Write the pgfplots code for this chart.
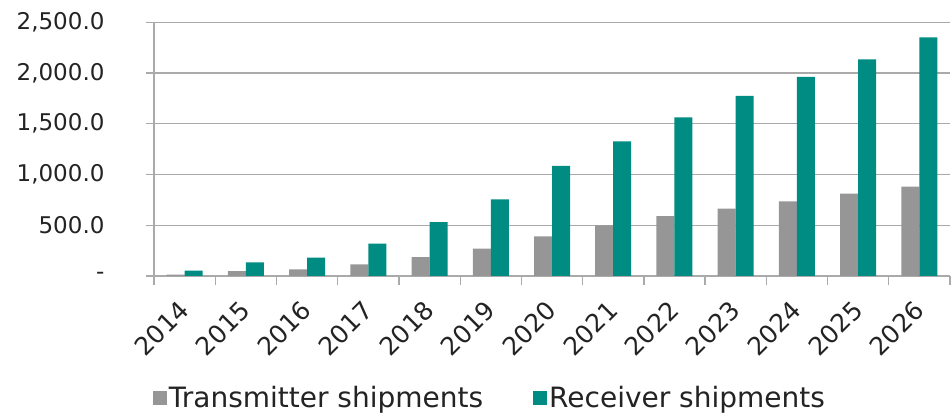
\documentclass[border=0pt]{standalone}
\usepackage{pgfplots}
\pgfplotsset{compat=1.18}
\usepackage{fontspec}
\setmainfont{DejaVu Sans}
\definecolor{teal1}{RGB}{0,140,130}
\definecolor{gray1}{RGB}{150,150,150}
\definecolor{gridc}{RGB}{170,170,170}
\definecolor{txt}{RGB}{35,35,35}
\begin{document}
\begin{tikzpicture}
\path[use as bounding box] (0,0) rectangle (952pt,414pt);
\begin{axis}[
  at={(154pt,138pt)}, anchor=south west,
  scale only axis, width=796pt, height=253.7pt,
  xmin=-0.5, xmax=12.5, ymin=0, ymax=2500,
  axis x line*=bottom, axis y line*=left,
  axis line style={gridc, line width=1.3pt},
  ybar=0pt, bar width=18pt,
  xtick={0,...,12},
  xticklabels={2014,2015,2016,2017,2018,2019,2020,2021,2022,2023,2024,2025,2026},
  minor xtick={-0.5,0.5,...,12.5},
  tick align=outside,
  major tick length=8pt, minor tick length=9pt,
  every major x tick/.append style={draw=none},
  every tick/.append style={gridc, line width=1.3pt},
  ytick={0,500,...,2500},
  yticklabels={{-\hspace{18pt}},{500.0},{1,000.0},{1,500.0},{2,000.0},{2,500.0}},
  ymajorgrids, major grid style={gridc, line width=1.3pt},
  xticklabel style={font=\fontsize{25}{30}\selectfont, text=txt, rotate=45, anchor=north east, inner sep=0pt, xshift=-15.5pt, yshift=-5.6pt},
  yticklabel style={font=\fontsize{23}{27}\selectfont, text=txt, xshift=-38pt},
  legend style={at={(axis description cs:0.422,-0.481)}, anchor=center, draw=none,
    font=\fontsize{28}{32}\selectfont, text=txt, legend columns=2,
    /tikz/every even column/.append style={column sep=48pt}},
  legend image code/.code={\fill[#1, draw=none] (0pt,-7pt) rectangle (14pt,7pt);},
]
\addplot[fill=gray1, draw=none] coordinates {(0,13) (1,49) (2,66) (3,115) (4,187) (5,269) (6,391) (7,499) (8,591) (9,664) (10,736) (11,811) (12,880)};
\addplot[fill=teal1, draw=none] coordinates {(0,52) (1,135) (2,180) (3,318) (4,531) (5,756) (6,1084) (7,1327) (8,1564) (9,1774) (10,1961) (11,2135) (12,2352)};
\legend{Transmitter shipments, Receiver shipments}
\end{axis}
\end{tikzpicture}
\end{document}
